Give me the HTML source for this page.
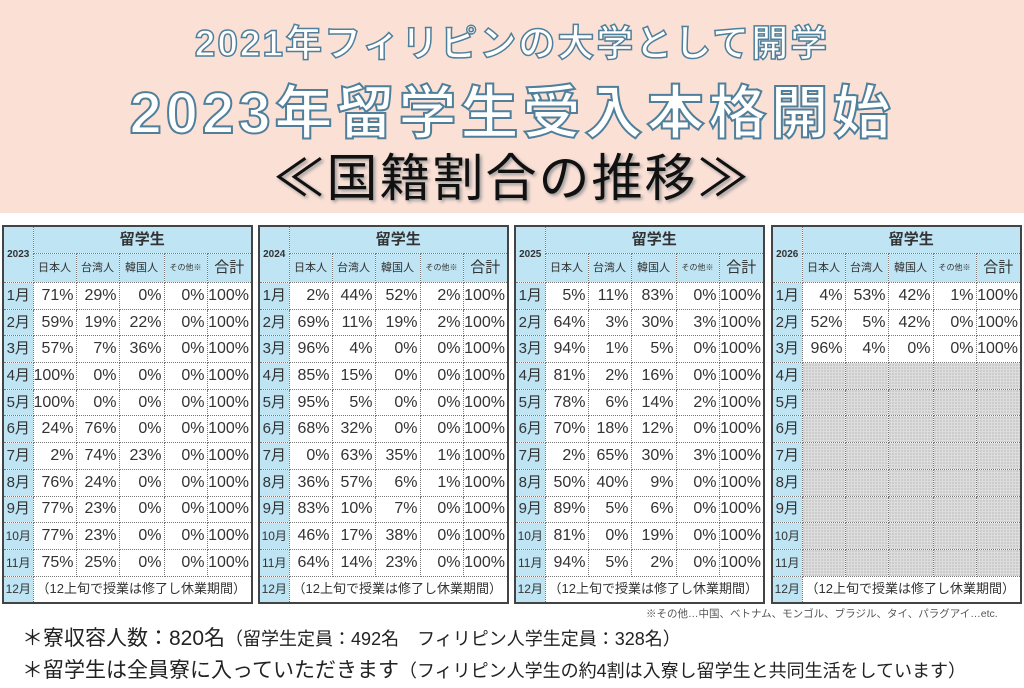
<!DOCTYPE html>
<html><head><meta charset="utf-8"><style>
body{margin:0;width:1024px;height:688px;background:#fff;position:relative;overflow:hidden;font-family:"Liberation Sans","Noto Sans CJK JP",sans-serif;}
.hdr{position:absolute;left:0;top:0;width:1024px;height:213px;background:#fbe0d5;}
.t{position:absolute;left:0;width:1024px;text-align:center;white-space:nowrap;}
.t1{top:13px;font-size:37px;font-weight:bold;color:#fff;-webkit-text-stroke:1.5px #4f7f9a;letter-spacing:2px;}
.t2{top:66px;font-size:58px;font-weight:bold;color:#fff;-webkit-text-stroke:2px #4f7f9a;letter-spacing:4px;}
.t3{top:137px;font-size:51px;color:#111;text-shadow:2px 2px 3px #999;letter-spacing:2px;}
table{position:absolute;top:225px;border-collapse:collapse;table-layout:fixed;width:249px;border:2px solid #444;background:#fff;}
td{border:1px dotted #777;padding:0 2px 0 0;text-align:right;font-size:16px;color:#333;height:25.7px;line-height:20px;overflow:hidden;white-space:nowrap;}
td.m{background:#bfe4f4;text-align:center;padding:0;font-size:15px;}
tr.h td{background:#bfe4f4;text-align:center;padding:0;}
tr.h1 td{height:26px;}
tr.h2 td{height:28px;font-size:11px;}
td.y{font-size:10px;font-weight:bold;}
td.r{font-size:15px;font-weight:bold;}
td.s{font-size:8px !important;}
td.g{font-size:15px !important;}
td.n{text-align:center;font-size:13px;}
td.x{background-color:#ddd;background-image:radial-gradient(#999 0.6px,transparent 0.7px);background-size:3px 3px;}
.note{position:absolute;left:646px;top:606px;font-size:10.5px;color:#555;white-space:nowrap;}
.f{position:absolute;left:22px;font-size:21px;color:#222;white-space:nowrap;}
.f small{font-size:18px;}
</style></head><body>
<div class="hdr"></div>
<div class="t t1">2021年フィリピンの大学として開学</div>
<div class="t t2">2023年留学生受入本格開始</div>
<div class="t t3">≪国籍割合の推移≫</div>

<table style="left:2px"><colgroup><col style="width:30px"><col style="width:43px"><col style="width:43px"><col style="width:45px"><col style="width:43px"><col style="width:45px"></colgroup>
<tr class="h h1"><td class="y" rowspan="2">2023</td><td class="r" colspan="5">留学生</td></tr>
<tr class="h h2"><td>日本人</td><td>台湾人</td><td>韓国人</td><td class="s">その他※</td><td class="g">合計</td></tr>
<tr><td class="m">1月</td><td>71%</td><td>29%</td><td>0%</td><td>0%</td><td>100%</td></tr>
<tr><td class="m">2月</td><td>59%</td><td>19%</td><td>22%</td><td>0%</td><td>100%</td></tr>
<tr><td class="m">3月</td><td>57%</td><td>7%</td><td>36%</td><td>0%</td><td>100%</td></tr>
<tr><td class="m">4月</td><td>100%</td><td>0%</td><td>0%</td><td>0%</td><td>100%</td></tr>
<tr><td class="m">5月</td><td>100%</td><td>0%</td><td>0%</td><td>0%</td><td>100%</td></tr>
<tr><td class="m">6月</td><td>24%</td><td>76%</td><td>0%</td><td>0%</td><td>100%</td></tr>
<tr><td class="m">7月</td><td>2%</td><td>74%</td><td>23%</td><td>0%</td><td>100%</td></tr>
<tr><td class="m">8月</td><td>76%</td><td>24%</td><td>0%</td><td>0%</td><td>100%</td></tr>
<tr><td class="m">9月</td><td>77%</td><td>23%</td><td>0%</td><td>0%</td><td>100%</td></tr>
<tr><td class="m" style="font-size:12px">10月</td><td>77%</td><td>23%</td><td>0%</td><td>0%</td><td>100%</td></tr>
<tr><td class="m" style="font-size:12px">11月</td><td>75%</td><td>25%</td><td>0%</td><td>0%</td><td>100%</td></tr>
<tr><td class="m" style="font-size:12px">12月</td><td class="n" colspan="5">（12上旬で授業は修了し休業期間）</td></tr>
</table>

<table style="left:258px"><colgroup><col style="width:30px"><col style="width:43px"><col style="width:43px"><col style="width:45px"><col style="width:43px"><col style="width:45px"></colgroup>
<tr class="h h1"><td class="y" rowspan="2">2024</td><td class="r" colspan="5">留学生</td></tr>
<tr class="h h2"><td>日本人</td><td>台湾人</td><td>韓国人</td><td class="s">その他※</td><td class="g">合計</td></tr>
<tr><td class="m">1月</td><td>2%</td><td>44%</td><td>52%</td><td>2%</td><td>100%</td></tr>
<tr><td class="m">2月</td><td>69%</td><td>11%</td><td>19%</td><td>2%</td><td>100%</td></tr>
<tr><td class="m">3月</td><td>96%</td><td>4%</td><td>0%</td><td>0%</td><td>100%</td></tr>
<tr><td class="m">4月</td><td>85%</td><td>15%</td><td>0%</td><td>0%</td><td>100%</td></tr>
<tr><td class="m">5月</td><td>95%</td><td>5%</td><td>0%</td><td>0%</td><td>100%</td></tr>
<tr><td class="m">6月</td><td>68%</td><td>32%</td><td>0%</td><td>0%</td><td>100%</td></tr>
<tr><td class="m">7月</td><td>0%</td><td>63%</td><td>35%</td><td>1%</td><td>100%</td></tr>
<tr><td class="m">8月</td><td>36%</td><td>57%</td><td>6%</td><td>1%</td><td>100%</td></tr>
<tr><td class="m">9月</td><td>83%</td><td>10%</td><td>7%</td><td>0%</td><td>100%</td></tr>
<tr><td class="m" style="font-size:12px">10月</td><td>46%</td><td>17%</td><td>38%</td><td>0%</td><td>100%</td></tr>
<tr><td class="m" style="font-size:12px">11月</td><td>64%</td><td>14%</td><td>23%</td><td>0%</td><td>100%</td></tr>
<tr><td class="m" style="font-size:12px">12月</td><td class="n" colspan="5">（12上旬で授業は修了し休業期間）</td></tr>
</table>

<table style="left:514px"><colgroup><col style="width:30px"><col style="width:43px"><col style="width:43px"><col style="width:45px"><col style="width:43px"><col style="width:45px"></colgroup>
<tr class="h h1"><td class="y" rowspan="2">2025</td><td class="r" colspan="5">留学生</td></tr>
<tr class="h h2"><td>日本人</td><td>台湾人</td><td>韓国人</td><td class="s">その他※</td><td class="g">合計</td></tr>
<tr><td class="m">1月</td><td>5%</td><td>11%</td><td>83%</td><td>0%</td><td>100%</td></tr>
<tr><td class="m">2月</td><td>64%</td><td>3%</td><td>30%</td><td>3%</td><td>100%</td></tr>
<tr><td class="m">3月</td><td>94%</td><td>1%</td><td>5%</td><td>0%</td><td>100%</td></tr>
<tr><td class="m">4月</td><td>81%</td><td>2%</td><td>16%</td><td>0%</td><td>100%</td></tr>
<tr><td class="m">5月</td><td>78%</td><td>6%</td><td>14%</td><td>2%</td><td>100%</td></tr>
<tr><td class="m">6月</td><td>70%</td><td>18%</td><td>12%</td><td>0%</td><td>100%</td></tr>
<tr><td class="m">7月</td><td>2%</td><td>65%</td><td>30%</td><td>3%</td><td>100%</td></tr>
<tr><td class="m">8月</td><td>50%</td><td>40%</td><td>9%</td><td>0%</td><td>100%</td></tr>
<tr><td class="m">9月</td><td>89%</td><td>5%</td><td>6%</td><td>0%</td><td>100%</td></tr>
<tr><td class="m" style="font-size:12px">10月</td><td>81%</td><td>0%</td><td>19%</td><td>0%</td><td>100%</td></tr>
<tr><td class="m" style="font-size:12px">11月</td><td>94%</td><td>5%</td><td>2%</td><td>0%</td><td>100%</td></tr>
<tr><td class="m" style="font-size:12px">12月</td><td class="n" colspan="5">（12上旬で授業は修了し休業期間）</td></tr>
</table>

<table style="left:771px"><colgroup><col style="width:30px"><col style="width:43px"><col style="width:43px"><col style="width:45px"><col style="width:43px"><col style="width:45px"></colgroup>
<tr class="h h1"><td class="y" rowspan="2">2026</td><td class="r" colspan="5">留学生</td></tr>
<tr class="h h2"><td>日本人</td><td>台湾人</td><td>韓国人</td><td class="s">その他※</td><td class="g">合計</td></tr>
<tr><td class="m">1月</td><td>4%</td><td>53%</td><td>42%</td><td>1%</td><td>100%</td></tr>
<tr><td class="m">2月</td><td>52%</td><td>5%</td><td>42%</td><td>0%</td><td>100%</td></tr>
<tr><td class="m">3月</td><td>96%</td><td>4%</td><td>0%</td><td>0%</td><td>100%</td></tr>
<tr><td class="m">4月</td><td class="x"></td><td class="x"></td><td class="x"></td><td class="x"></td><td class="x"></td></tr>
<tr><td class="m">5月</td><td class="x"></td><td class="x"></td><td class="x"></td><td class="x"></td><td class="x"></td></tr>
<tr><td class="m">6月</td><td class="x"></td><td class="x"></td><td class="x"></td><td class="x"></td><td class="x"></td></tr>
<tr><td class="m">7月</td><td class="x"></td><td class="x"></td><td class="x"></td><td class="x"></td><td class="x"></td></tr>
<tr><td class="m">8月</td><td class="x"></td><td class="x"></td><td class="x"></td><td class="x"></td><td class="x"></td></tr>
<tr><td class="m">9月</td><td class="x"></td><td class="x"></td><td class="x"></td><td class="x"></td><td class="x"></td></tr>
<tr><td class="m" style="font-size:12px">10月</td><td class="x"></td><td class="x"></td><td class="x"></td><td class="x"></td><td class="x"></td></tr>
<tr><td class="m" style="font-size:12px">11月</td><td class="x"></td><td class="x"></td><td class="x"></td><td class="x"></td><td class="x"></td></tr>
<tr><td class="m" style="font-size:12px">12月</td><td class="n" colspan="5">（12上旬で授業は修了し休業期間）</td></tr>
</table>

<div class="note">※その他…中国、ベトナム、モンゴル、ブラジル、タイ、パラグアイ…etc.</div>
<div class="f" style="top:622px">＊寮収容人数：820名<small>（留学生定員：492名　フィリピン人学生定員：328名）</small></div>
<div class="f" style="top:654px">＊留学生は全員寮に入っていただきます<small>（フィリピン人学生の約4割は入寮し留学生と共同生活をしています）</small></div>
</body></html>
